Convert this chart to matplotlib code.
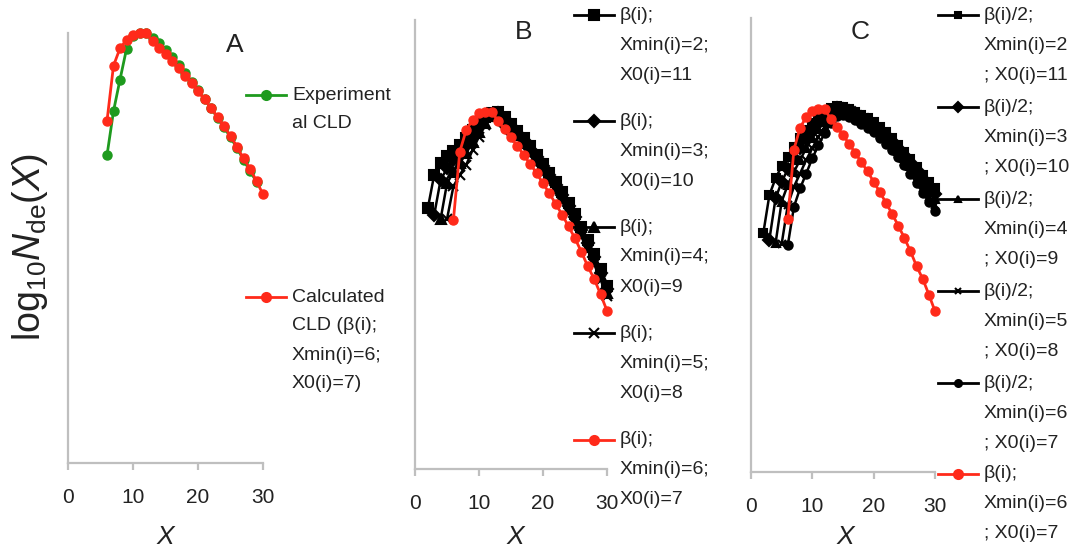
import matplotlib.pyplot as plt
from matplotlib.lines import Line2D

W, H = 1081, 554

plt.rcParams['font.family'] = ['Liberation Sans', 'DejaVu Sans']
plt.rcParams['mathtext.fontset'] = 'custom'
plt.rcParams['mathtext.rm'] = 'Liberation Sans'
plt.rcParams['mathtext.it'] = 'Liberation Sans:italic'

# values (arbitrary log units, no y ticks in the original)
x_calc = list(range(6, 31))
y_calc = [5.79, 7.38, 7.88, 8.12, 8.27, 8.31, 8.31, 8.08, 7.90, 7.71, 7.51, 7.30, 7.09,
          6.88, 6.64, 6.41, 6.16, 5.91, 5.64, 5.36, 5.05, 4.71, 4.42, 4.06, 3.68]

x_exp = list(range(6, 30))
y_exp = [4.80, 6.07, 6.98, 7.86, 8.22, 8.31, 8.31, 8.18, 8.03, 7.84, 7.63, 7.40, 7.17,
         6.91, 6.68, 6.42, 6.16, 5.88, 5.61, 5.32, 5.01, 4.67, 4.35, 4.04]

# panel B: beta(i), Xmin(i)=2..5
b_y_2 = [6.06, 6.84, 7.11, 7.28, 7.40, 7.53, 7.69, 7.88, 8.05, 8.19, 8.27, 8.30, 8.18, 8.03, 7.87,
         7.69, 7.50, 7.30, 7.10, 6.89, 6.67, 6.44, 6.19, 5.92, 5.63, 5.32, 5.00, 4.64, 4.25]
b_y_3 = [5.91, 6.72, 6.99, 7.19, 7.34, 7.53, 7.74, 7.96, 8.13, 8.24, 8.27, 8.14, 7.98, 7.82,
         7.64, 7.45, 7.25, 7.05, 6.83, 6.61, 6.37, 6.12, 5.85, 5.56, 5.25, 4.92, 4.56, 4.18]
b_y_4 = [5.81, 6.64, 6.91, 7.11, 7.34, 7.61, 7.84, 8.05, 8.21, 8.24, 8.10, 7.94, 7.77, 7.59,
         7.39, 7.19, 6.98, 6.76, 6.53, 6.29, 6.04, 5.77, 5.48, 5.17, 4.84, 4.48, 4.10]
b_y_5 = [5.81, 6.57, 6.84, 7.07, 7.42, 7.73, 8.00, 8.18, 8.20, 8.05, 7.89, 7.71, 7.53, 7.33,
         7.12, 6.91, 6.69, 6.46, 6.21, 5.96, 5.69, 5.40, 5.09, 4.76, 4.40, 4.02]

# panel C: beta(i)/2, Xmin(i)=2..6
c_y_2 = [5.46, 6.34, 6.72, 7.00, 7.22, 7.44, 7.64, 7.83, 7.99, 8.13, 8.25, 8.32, 8.38, 8.36, 8.31,
         8.25, 8.18, 8.10, 8.00, 7.89, 7.77, 7.64, 7.49, 7.33, 7.16, 6.99, 6.80, 6.64, 6.49]
c_y_3 = [5.32, 6.26, 6.64, 6.93, 7.18, 7.41, 7.61, 7.83, 7.99, 8.13, 8.25, 8.32, 8.31, 8.27,
         8.21, 8.13, 8.05, 7.95, 7.83, 7.71, 7.57, 7.42, 7.26, 7.09, 6.90, 6.70, 6.53, 6.36]
c_y_4 = [5.23, 6.19, 6.57, 6.87, 7.14, 7.41, 7.64, 7.84, 8.02, 8.17, 8.27, 8.27, 8.22, 8.16,
         8.08, 7.99, 7.89, 7.77, 7.65, 7.51, 7.35, 7.19, 7.00, 6.81, 6.61, 6.41, 6.24]
c_y_5 = [5.22, 6.11, 6.53, 6.83, 7.14, 7.41, 7.67, 7.90, 8.07, 8.21, 8.22, 8.18, 8.11, 8.02,
         7.93, 7.83, 7.71, 7.58, 7.44, 7.28, 7.10, 6.91, 6.71, 6.50, 6.30, 6.11]
c_y_6 = [5.19, 6.07, 6.49, 6.83, 7.18, 7.48, 7.75, 7.98, 8.15, 8.18, 8.13, 8.05, 7.97, 7.88,
         7.77, 7.65, 7.51, 7.36, 7.20, 7.02, 6.82, 6.61, 6.39, 6.18, 5.98]

b_series = [(2, b_y_2, 's'), (3, b_y_3, 'D'), (4, b_y_4, '^'), (5, b_y_5, 'x')]
c_series = [(2, c_y_2, 's'), (3, c_y_3, 'D'), (4, c_y_4, '^'), (5, c_y_5, 'x'), (6, c_y_6, 'o')]

b_labels = [["β(i);", "Xmin(i)=%d;" % m, "X0(i)=%d" % (13 - m)] for m in range(2, 6)]
b_labels.append(["β(i);", "Xmin(i)=6;", "X0(i)=7"])
c_labels = [["β(i)/2;", "Xmin(i)=%d" % m, "; X0(i)=%d" % (13 - m)] for m in range(2, 7)]
c_labels.append(["β(i);", "Xmin(i)=6", "; X0(i)=7"])

RED = '#ff2a1a'
GREEN = '#1e9a1e'
GRAY = '#bfbfbf'
TXT = '#222222'


def px_axes(l, t, r, b):
    return fig.add_axes([l / W, 1 - b / H, (r - l) / W, (b - t) / H])


def style(ax, ylim):
    ax.set_xlim(0, 30)
    ax.set_ylim(*ylim)
    for s in ['top', 'right']:
        ax.spines[s].set_visible(False)
    for s in ['left', 'bottom']:
        ax.spines[s].set_color(GRAY)
        ax.spines[s].set_linewidth(1.6)
    ax.set_xticks([0, 10, 20, 30])
    ax.set_yticks([])
    ax.tick_params(axis='x', direction='out', length=5, width=1.6, color=GRAY,
                   labelsize=15, pad=13, labelcolor=TXT)


def legend_entry(x0, y0, lines, color, marker, ms, spacing, length=40, gap=6):
    fy = 1 - y0 / H
    fig.add_artist(Line2D([x0 / W, (x0 + length / 2) / W, (x0 + length) / W], [fy, fy, fy],
                          color=color, lw=2, marker=marker, ms=ms, mew=1.5, markevery=[1]))
    for i, s in enumerate(lines):
        fig.text((x0 + length + gap) / W, 1 - (y0 + i * spacing) / H, s, fontsize=14,
                 va='center', ha='left', color=TXT)


fig = plt.figure(figsize=(W / 100, H / 100), dpi=100)

# panel A
axA = px_axes(68, 33, 263, 463)
style(axA, (-4.05, 8.32))
axA.plot(x_exp, y_exp, color=GREEN, lw=2, marker='o', ms=6.5, clip_on=False)
axA.plot(x_calc, y_calc, color=RED, lw=2, marker='o', ms=6.5, clip_on=False)

# panel B
axB = px_axes(415, 20, 607, 469)
style(axB, (0, 10.44))
for m, ys, mk in b_series:
    axB.plot(range(m, 31), ys, color='black', lw=1.8, marker=mk, ms=6.5, mew=1.5, clip_on=False)
axB.plot(x_calc, y_calc, color=RED, lw=2, marker='o', ms=6.5, clip_on=False)

# panel C
axC = px_axes(751, 18, 935, 472)
style(axC, (0, 10.39))
for m, ys, mk in c_series:
    axC.plot(range(m, 31), ys, color='black', lw=1.8, marker=mk, ms=6, mew=1.5, clip_on=False)
axC.plot(x_calc, y_calc, color=RED, lw=2, marker='o', ms=6.5, clip_on=False)

# titles and axis labels
for s, x, y in [("A", 235, 45), ("B", 524, 32), ("C", 860, 32)]:
    fig.text(x / W, 1 - y / H, s, fontsize=19, ha='center', va='center', color=TXT)
for x in [165, 515, 845]:
    fig.text(x / W, 1 - 537 / H, "X", fontsize=19, ha='center', va='center',
             style='italic', color=TXT)
fig.text(30 / W, 1 - 247 / H, r'log$_{10}$$\mathit{N}_{\mathrm{de}}$($\mathit{X}$)',
         rotation=90, fontsize=27, ha='center', va='center', color=TXT)

# legends
legend_entry(246, 95, ["Experiment", "al CLD"], GREEN, 'o', 6.5, 29)
legend_entry(246, 297, ["Calculated", "CLD (β(i);", "Xmin(i)=6;", "X0(i)=7)"], RED, 'o', 6.5, 29)

for i, (m, ys, mk) in enumerate(b_series):
    legend_entry(574, 15 + i * 106, b_labels[i], 'black', mk, 6.5, 30)
legend_entry(574, 440, b_labels[4], RED, 'o', 6.5, 30)

for i, (m, ys, mk) in enumerate(c_series):
    legend_entry(938, 15 + i * 92, c_labels[i], 'black', mk, 5, 30)
legend_entry(938, 474, c_labels[5], RED, 'o', 6.5, 30)

fig.savefig('out.png', dpi=100)
